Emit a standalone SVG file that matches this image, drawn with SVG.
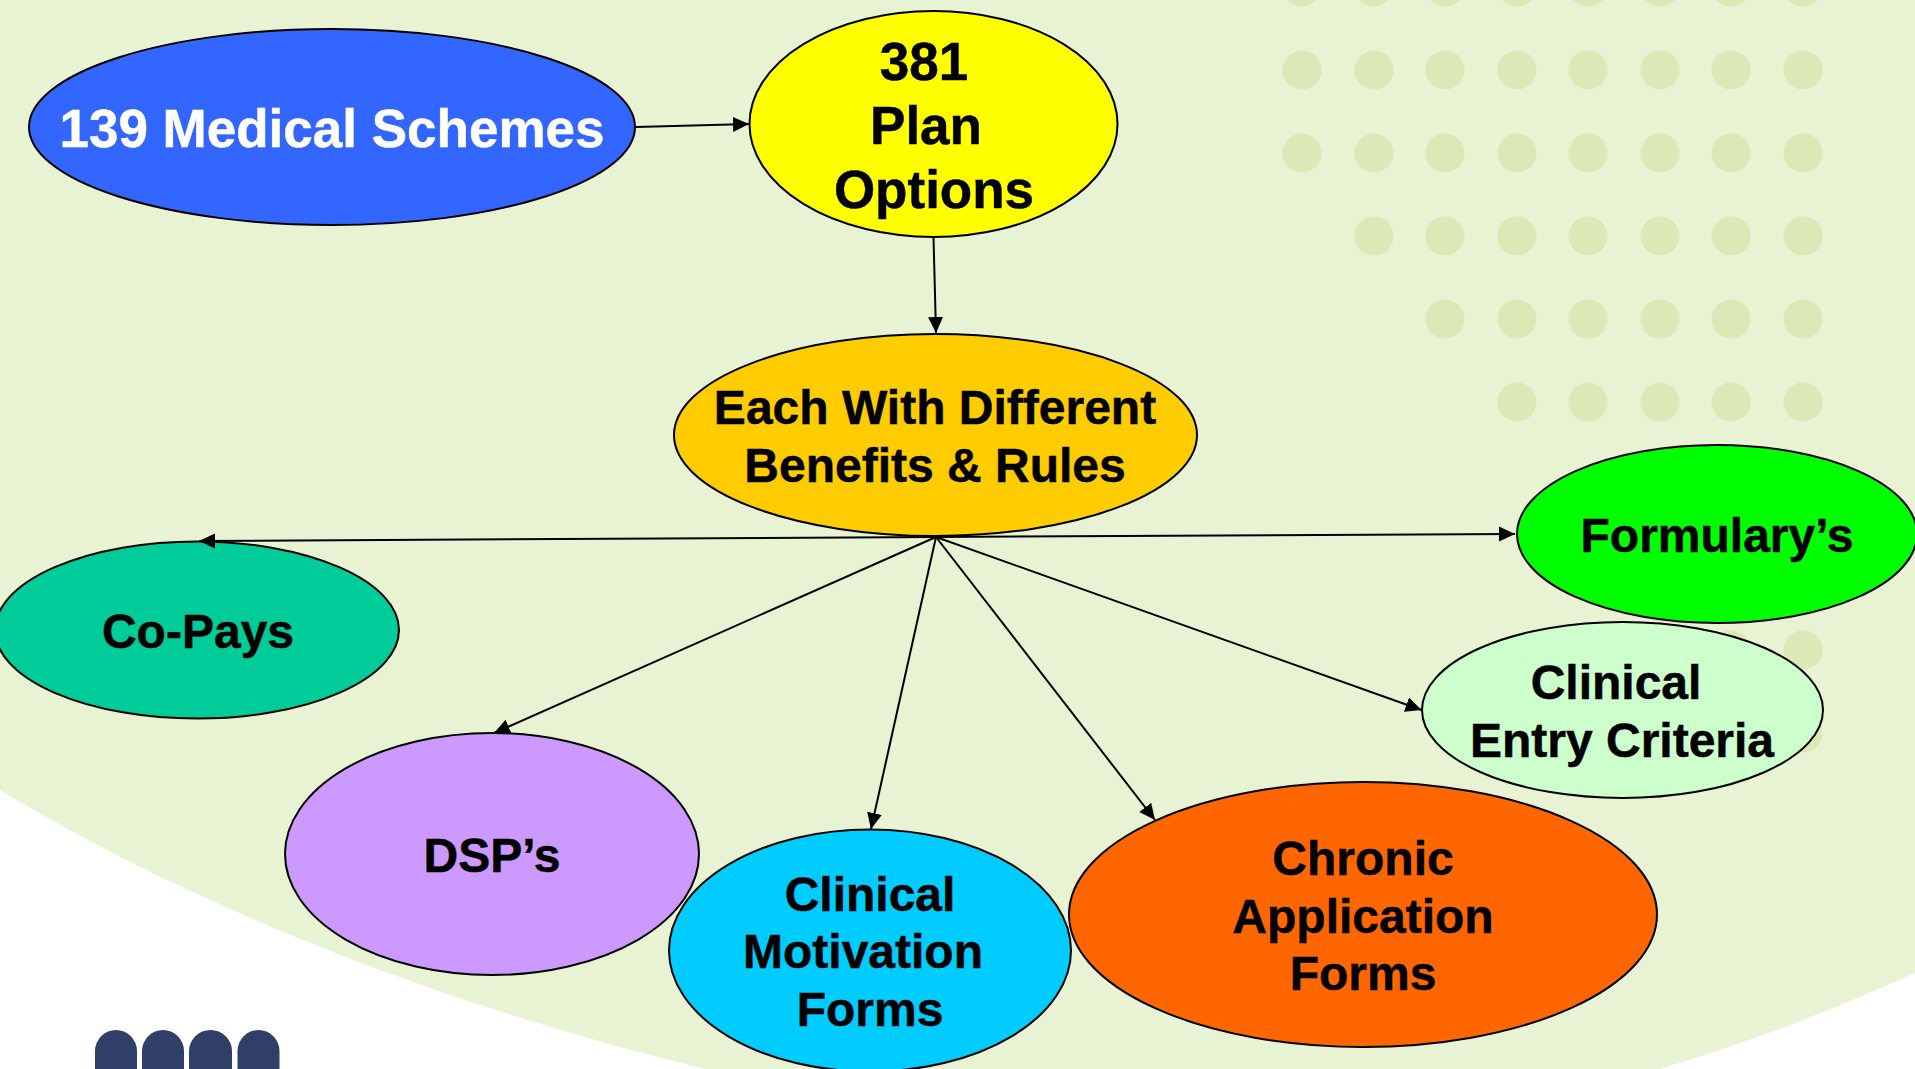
<svg xmlns="http://www.w3.org/2000/svg" width="1915" height="1069" viewBox="0 0 1915 1069">
<defs>
<marker id="a" markerUnits="userSpaceOnUse" markerWidth="17" markerHeight="16" refX="16" refY="8" orient="auto"><path d="M0 0.500L16 8L0 15.500Z" fill="#000"/></marker>
</defs>
<style>
.n{stroke:#000;stroke-width:2}
.c{stroke:#000;stroke-width:2;fill:none;marker-end:url(#a)}
text{font-family:"Liberation Sans",Arial,sans-serif;font-weight:700;font-size:48px;text-anchor:middle;fill:#000;stroke:#000;stroke-width:.5}
.big{font-size:53px}
.d{fill:#dce8b6}
</style>
<rect width="1915" height="1069" fill="#fff"/>
<path d="M0 0H1915V973Q1790 1030 1660 1069H706C440 1005 190 905 0 790Z" fill="#e8f3d3"/>
<g id="dots" class="d">
<circle cx="1302" cy="-13" r="19.500"/><circle cx="1374" cy="-13" r="19.500"/><circle cx="1445" cy="-13" r="19.500"/><circle cx="1517" cy="-13" r="19.500"/><circle cx="1588" cy="-13" r="19.500"/><circle cx="1660" cy="-13" r="19.500"/><circle cx="1731" cy="-13" r="19.500"/><circle cx="1803" cy="-13" r="19.500"/>
<circle cx="1302" cy="70" r="19.500"/><circle cx="1374" cy="70" r="19.500"/><circle cx="1445" cy="70" r="19.500"/><circle cx="1517" cy="70" r="19.500"/><circle cx="1588" cy="70" r="19.500"/><circle cx="1660" cy="70" r="19.500"/><circle cx="1731" cy="70" r="19.500"/><circle cx="1803" cy="70" r="19.500"/>
<circle cx="1302" cy="153" r="19.500"/><circle cx="1374" cy="153" r="19.500"/><circle cx="1445" cy="153" r="19.500"/><circle cx="1517" cy="153" r="19.500"/><circle cx="1588" cy="153" r="19.500"/><circle cx="1660" cy="153" r="19.500"/><circle cx="1731" cy="153" r="19.500"/><circle cx="1803" cy="153" r="19.500"/>
<circle cx="1374" cy="236" r="19.500"/><circle cx="1445" cy="236" r="19.500"/><circle cx="1517" cy="236" r="19.500"/><circle cx="1588" cy="236" r="19.500"/><circle cx="1660" cy="236" r="19.500"/><circle cx="1731" cy="236" r="19.500"/><circle cx="1803" cy="236" r="19.500"/>
<circle cx="1445" cy="319" r="19.500"/><circle cx="1517" cy="319" r="19.500"/><circle cx="1588" cy="319" r="19.500"/><circle cx="1660" cy="319" r="19.500"/><circle cx="1731" cy="319" r="19.500"/><circle cx="1803" cy="319" r="19.500"/>
<circle cx="1517" cy="402" r="19.500"/><circle cx="1588" cy="402" r="19.500"/><circle cx="1660" cy="402" r="19.500"/><circle cx="1731" cy="402" r="19.500"/><circle cx="1803" cy="402" r="19.500"/>
<circle cx="1731" cy="650" r="19.500"/><circle cx="1803" cy="650" r="19.500"/><circle cx="1803" cy="733" r="19.500"/>
</g>
<g id="logo" fill="#2f3f66">
<path d="M95 1069V1051A21 21 0 0 1 137 1051V1069Z"/><path d="M142 1069V1051A21 21 0 0 1 184 1051V1069Z"/><path d="M189 1069V1051A21.500 21 0 0 1 232 1051V1069Z"/><path d="M237.500 1069V1051A21 21 0 0 1 279.500 1051V1069Z"/>
</g>
<g id="n1"><ellipse class="n" cx="332" cy="127" rx="303" ry="98" fill="#3366ff"/><text x="332" y="147" style="fill:#fff;stroke:#fff;font-size:53px">139 Medical Schemes</text></g>
<g id="n2"><ellipse class="n" cx="933.500" cy="124" rx="184" ry="113" fill="#ffff00"/><text class="big" x="924" y="80">381</text><text class="big" x="926" y="144">Plan</text><text class="big" x="934" y="208">Options</text></g>
<g id="n3"><ellipse class="n" cx="935.500" cy="435" rx="261.500" ry="101" fill="#ffcc00"/><text x="935" y="424">Each With Different</text><text x="935" y="482">Benefits &amp; Rules</text></g>
<g id="n4"><ellipse class="n" cx="1717" cy="534" rx="200" ry="89" fill="#00ff00"/><text x="1717" y="552">Formulary’s</text></g>
<g id="n5"><ellipse class="n" cx="197" cy="630" rx="202" ry="88.500" fill="#00cc99"/><text x="198" y="648">Co-Pays</text></g>
<g id="n6"><ellipse class="n" cx="1622.500" cy="710" rx="200.500" ry="88" fill="#ccffcc"/><text x="1616" y="699">Clinical</text><text x="1622" y="757">Entry Criteria</text></g>
<g id="n7"><ellipse class="n" cx="492" cy="854" rx="207" ry="121" fill="#cc99ff"/><text x="492" y="872">DSP’s</text></g>
<g id="n8"><ellipse class="n" cx="870" cy="950.500" rx="201" ry="121" fill="#00ccff"/><text x="870" y="911">Clinical</text><text x="863" y="968">Motivation</text><text x="870" y="1026">Forms</text></g>
<g id="n9"><ellipse class="n" cx="1363" cy="914.500" rx="294" ry="132.500" fill="#ff6600"/><text x="1363" y="875">Chronic</text><text x="1363" y="933">Application</text><text x="1363" y="990">Forms</text></g>
<g id="connectors">
<path class="c" d="M636 127L749 124"/>
<path class="c" d="M933.500 237L936 333"/>
<path class="c" d="M936 537L199 541"/>
<path class="c" d="M936 537L1515 534"/>
<path class="c" d="M936 537L494 733"/>
<path class="c" d="M936 537L871 829"/>
<path class="c" d="M936 537L1155 820"/>
<path class="c" d="M936 537L1421.500 710"/>
</g>
</svg>
